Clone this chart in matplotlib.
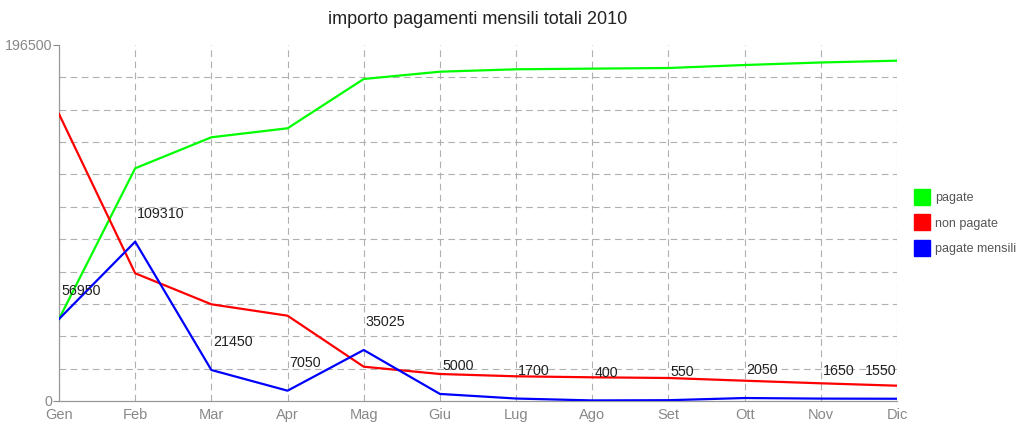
import matplotlib
matplotlib.use("Agg")
from matplotlib import pyplot as plt
from matplotlib.lines import Line2D

plt.rcParams['font.family'] = ['Liberation Sans', 'DejaVu Sans']

mesi = ["Gen", "Feb", "Mar", "Apr", "Mag", "Giu", "Lug", "Ago", "Set", "Ott", "Nov", "Dic"]

# valori (scala 0 - 196500)
pagate = [45260, 128450, 145560, 150530, 177740, 181760, 183090, 183460, 183800, 185460, 186850, 187840]
non_pagate = [158420, 70490, 53380, 47080, 18930, 14900, 13630, 13080, 12700, 11200, 9770, 8450]
pagate_mensili = [45260, 87930, 17110, 5690, 28150, 3900, 1360, 320, 440, 1640, 1320, 1240]

# etichette numeriche sopra la serie mensile
etichette = ["56950", "109310", "21450", "7050", "35025", "5000", "1700", "400", "550", "2050", "1650", "1550"]

y_max = 196500
n_div = 11

fig = plt.figure(figsize=(10.26, 4.22), dpi=100)
ax = fig.add_axes([59 / 1026, 21 / 422, 838 / 1026, 356 / 422])

x = list(range(len(mesi)))
ax.plot(x, pagate, color="#00ff00", lw=1.6, label="pagate", zorder=3)
ax.plot(x, non_pagate, color="#ff0000", lw=1.6, label="non pagate", zorder=3)
ax.plot(x, pagate_mensili, color="#0000ff", lw=1.6, label="pagate mensili", zorder=3)

for i, t in enumerate(etichette):
    ha = "right" if i == len(mesi) - 1 else "left"
    dx = 0 if ha == "right" else 1.5
    ax.annotate(t, (i, pagate_mensili[i]), xytext=(dx, 20), textcoords="offset points",
                ha=ha, va="center", fontsize=10.3, color="#222222")

ax.set_xlim(0, len(mesi) - 1)
ax.set_ylim(0, y_max)

ax.set_xticks(x)
ax.set_xticklabels(mesi)
ax.set_yticks([0, y_max])
ax.set_yticks([y_max * k / n_div for k in range(1, n_div)], minor=True)

ax.tick_params(axis="x", length=0, pad=5, labelsize=10.5, labelcolor="#888888")
ax.tick_params(axis="y", which="major", length=4, width=0.8, color="#888888",
               pad=1, labelsize=10.3, labelcolor="#888888")
ax.tick_params(axis="y", which="minor", length=0)

grid_style = dict(color="#b0b0b0", linestyle=(0, (6, 4)), linewidth=0.8)
ax.grid(axis="y", which="minor", **grid_style)
ax.grid(axis="x", which="major", **grid_style)

for s in ["top", "right"]:
    ax.spines[s].set_visible(False)
for s in ["left", "bottom"]:
    ax.spines[s].set_color("#999999")
    ax.spines[s].set_linewidth(0.9)

ax.set_title("importo pagamenti mensili totali 2010", fontsize=13, color="#222222", pad=15)

handles = [Line2D([], [], marker="s", linestyle="", markersize=11, color=c)
           for c in ["#00ff00", "#ff0000", "#0000ff"]]
fig.legend(handles, ["pagate", "non pagate", "pagate mensili"], loc="upper left",
           bbox_to_anchor=(901 / 1026, 1 - 181 / 422), frameon=False, fontsize=9,
           labelcolor="#555555", handletextpad=0.3, labelspacing=1.08, handlelength=1.5)

fig.savefig("out.png", dpi=100)
